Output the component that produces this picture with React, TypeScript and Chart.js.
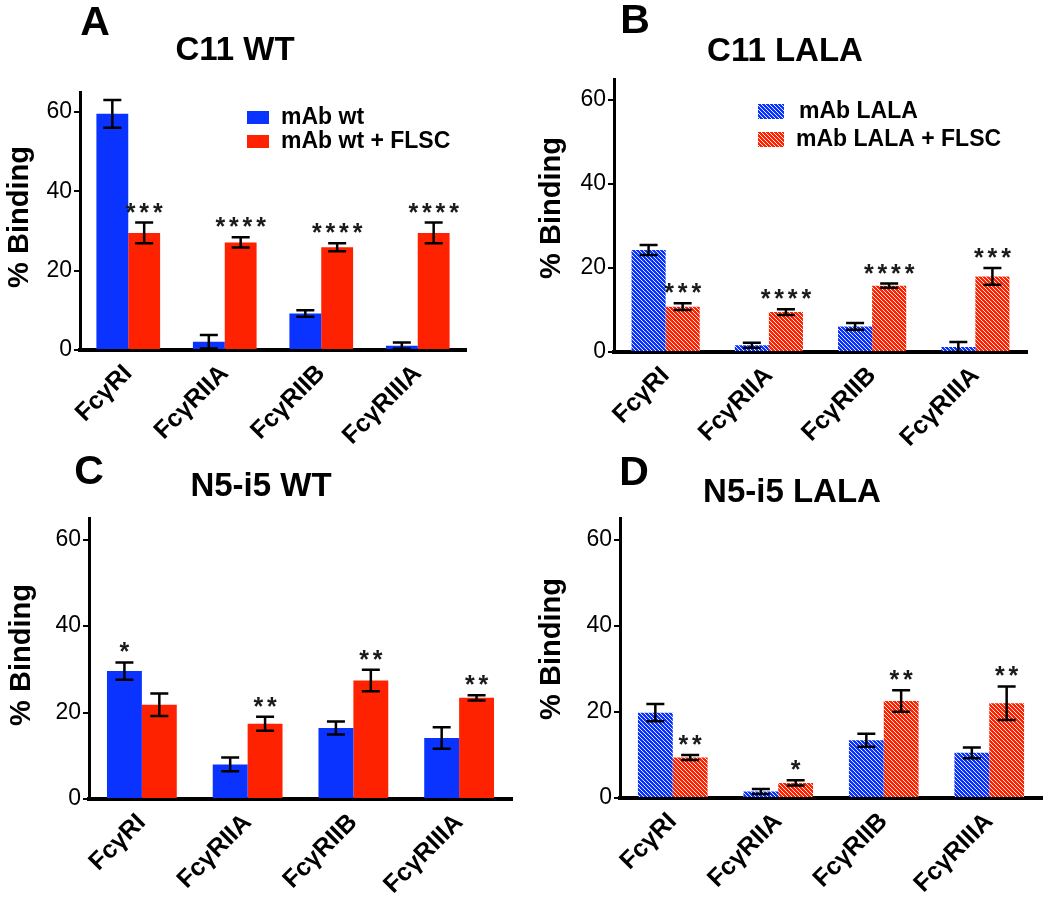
import React, { useEffect, useRef } from "react";
import { Chart, registerables } from "chart.js";
Chart.register(...registerables);

const FONT = "'Liberation Sans', Arial, Helvetica, sans-serif";

// ---- shared ----
const categories = ["FcγRI", "FcγRIIA", "FcγRIIB", "FcγRIIIA"];

// ---- Panel A: C11 WT ----
const c11WtMab = [59.5, 2.1, 9.2, 1.1];
const c11WtMabErr = [3.5, 1.7, 0.8, 0.8];
const c11WtFlsc = [29.5, 27.1, 25.9, 29.5];
const c11WtFlscErr = [2.6, 1.3, 1.0, 2.6];
const c11WtStars = ["***", "****", "****", "****"];
const c11WtStarSeries = [1, 1, 1, 1];

// ---- Panel B: C11 LALA ----
const c11LalaMab = [24.3, 1.6, 6.1, 1.2];
const c11LalaMabErr = [1.2, 0.6, 0.8, 1.2];
const c11LalaFlsc = [10.8, 9.5, 15.8, 18.0];
const c11LalaFlscErr = [0.8, 0.7, 0.5, 2.0];
const c11LalaStars = ["***", "****", "****", "***"];
const c11LalaStarSeries = [1, 1, 1, 1];

// ---- Panel C: N5-i5 WT ----
const n5WtMab = [29.6, 8.0, 16.4, 14.1];
const n5WtMabErr = [2.0, 1.6, 1.5, 2.5];
const n5WtFlsc = [21.8, 17.4, 27.4, 23.4];
const n5WtFlscErr = [2.6, 1.6, 2.5, 0.6];
const n5WtStars = ["*", "**", "**", "**"];
const n5WtStarSeries = [0, 1, 1, 1];

// ---- Panel D: N5-i5 LALA ----
const n5LalaMab = [19.8, 1.5, 13.4, 10.5];
const n5LalaMabErr = [2.0, 0.6, 1.5, 1.25];
const n5LalaFlsc = [9.4, 3.5, 22.5, 22.0];
const n5LalaFlscErr = [0.6, 0.6, 2.5, 3.9];
const n5LalaStars = ["**", "*", "**", "**"];
const n5LalaStarSeries = [1, 1, 1, 1];

const wtLabels = ["mAb wt", "mAb wt + FLSC"];
const lalaLabels = ["mAb LALA", "mAb LALA + FLSC"];

const BLUE = "#0a33ff";
const RED = "#ff2200";

function hatch(color: string): CanvasPattern | string {
  const s = 4;
  const c = document.createElement("canvas");
  c.width = s;
  c.height = s;
  const g = c.getContext("2d");
  if (!g) return color;
  g.fillStyle = color;
  g.fillRect(0, 0, s, s);
  g.strokeStyle = "rgba(255,255,255,0.9)";
  g.lineWidth = 1;
  g.beginPath();
  g.moveTo(-1, -1);
  g.lineTo(s + 1, s + 1);
  g.moveTo(-1, s - 1);
  g.lineTo(1, s + 1);
  g.moveTo(s - 1, -1);
  g.lineTo(s + 1, 1);
  g.stroke();
  const p = g.createPattern(c, "repeat");
  return p || color;
}

type PanelCfg = {
  x: number; y: number; w: number; h: number;
  left: number; right: number; top: number; bottom: number;
  letter: string; letterPos: [number, number];
  title: string; titlePos: [number, number];
  yLabelPos: [number, number];
  mab: number[]; mabErr: number[]; flsc: number[]; flscErr: number[];
  stars: string[]; starSeries: number[];
  labels: string[];
  hatched: boolean;
  legend?: { sw: [number, number, number, number][]; txt: [number, number][] };
};

const panels: PanelCfg[] = [
  {
    x: 0, y: 0, w: 525, h: 450, left: 80, right: 466, top: 92, bottom: 350,
    letter: "A", letterPos: [95, 24], title: "C11 WT", titlePos: [235, 51], yLabelPos: [20, 217],
    mab: c11WtMab, mabErr: c11WtMabErr, flsc: c11WtFlsc, flscErr: c11WtFlscErr,
    stars: c11WtStars, starSeries: c11WtStarSeries, labels: wtLabels, hatched: false,
    legend: { sw: [[247, 111, 22, 13], [247, 135, 22, 13]], txt: [[281, 118], [281, 142]] },
  },
  {
    x: 525, y: 0, w: 525, h: 450, left: 89, right: 502, top: 79, bottom: 352,
    letter: "B", letterPos: [110, 22], title: "C11 LALA", titlePos: [260, 52], yLabelPos: [27, 208],
    mab: c11LalaMab, mabErr: c11LalaMabErr, flsc: c11LalaFlsc, flscErr: c11LalaFlscErr,
    stars: c11LalaStars, starSeries: c11LalaStarSeries, labels: lalaLabels, hatched: true,
    legend: { sw: [[233, 104, 26, 15], [233, 132, 26, 15]], txt: [[274, 112], [271, 140]] },
  },
  {
    x: 0, y: 450, w: 525, h: 447, left: 89, right: 512, top: 68, bottom: 349,
    letter: "C", letterPos: [89, 23], title: "N5-i5 WT", titlePos: [261, 37], yLabelPos: [22, 205],
    mab: n5WtMab, mabErr: n5WtMabErr, flsc: n5WtFlsc, flscErr: n5WtFlscErr,
    stars: n5WtStars, starSeries: n5WtStarSeries, labels: wtLabels, hatched: false,
  },
  {
    x: 525, y: 450, w: 525, h: 447, left: 95, right: 517, top: 68, bottom: 348,
    letter: "D", letterPos: [109, 24], title: "N5-i5 LALA", titlePos: [267, 43], yLabelPos: [27, 199],
    mab: n5LalaMab, mabErr: n5LalaMabErr, flsc: n5LalaFlsc, flscErr: n5LalaFlscErr,
    stars: n5LalaStars, starSeries: n5LalaStarSeries, labels: lalaLabels, hatched: true,
  },
];

function Panel({ cfg }: { cfg: PanelCfg }) {
  const ref = useRef<HTMLCanvasElement>(null);
  useEffect(() => {
    const canvas = ref.current;
    if (!canvas) return;
    const c0 = cfg.hatched ? hatch(BLUE) : BLUE;
    const c1 = cfg.hatched ? hatch(RED) : RED;
    const errs = [cfg.mabErr, cfg.flscErr];
    const vals = [cfg.mab, cfg.flsc];

    const overlay = {
      id: "overlay",
      afterDatasetsDraw(chart: any) {
        const ctx = chart.ctx as CanvasRenderingContext2D;
        const ys = chart.scales.y;
        ctx.save();
        ctx.strokeStyle = "#000";
        ctx.lineWidth = 2.5;
        for (let d = 0; d < 2; d++) {
          const meta = chart.getDatasetMeta(d);
          meta.data.forEach((el: any, i: number) => {
            const v = vals[d][i];
            const e = errs[d][i];
            const xT = el.x;
            const yT = ys.getPixelForValue(v + e);
            const yB = ys.getPixelForValue(Math.max(0, v - e));
            ctx.beginPath();
            ctx.moveTo(xT, yT);
            ctx.lineTo(xT, yB);
            ctx.moveTo(xT - 9, yT);
            ctx.lineTo(xT + 9, yT);
            ctx.moveTo(xT - 9, yB);
            ctx.lineTo(xT + 9, yB);
            ctx.stroke();
          });
        }
        // significance stars
        ctx.fillStyle = "#1a1a1a";
        ctx.font = `bold 25px ${FONT}`;
        ctx.textAlign = "center";
        ctx.textBaseline = "alphabetic";
        cfg.stars.forEach((s, i) => {
          const d = cfg.starSeries[i];
          const el = chart.getDatasetMeta(d).data[i];
          const top = ys.getPixelForValue(vals[d][i] + errs[d][i]);
          const n = s.length;
          const pitch = 13.6;
          for (let k = 0; k < n; k++) {
            const sx = el.x + (k - (n - 1) / 2) * pitch;
            ctx.fillText("*", sx, top - 2);
          }
        });
        ctx.restore();
      },
      afterDraw(chart: any) {
        const ctx = chart.ctx as CanvasRenderingContext2D;
        ctx.save();
        ctx.fillStyle = "#000";
        ctx.textAlign = "center";
        ctx.textBaseline = "middle";
        ctx.font = `bold 41px ${FONT}`;
        ctx.fillText(cfg.letter, cfg.letterPos[0], cfg.letterPos[1]);
        ctx.font = `bold 33px ${FONT}`;
        ctx.fillText(cfg.title, cfg.titlePos[0], cfg.titlePos[1]);
        ctx.save();
        ctx.translate(cfg.yLabelPos[0], cfg.yLabelPos[1]);
        ctx.rotate(-Math.PI / 2);
        ctx.font = `bold 29px ${FONT}`;
        ctx.fillText("% Binding", 0, 0);
        ctx.restore();
        if (cfg.legend) {
          const fills = [c0, c1];
          ctx.textAlign = "left";
          ctx.font = `bold 23px ${FONT}`;
          cfg.legend.sw.forEach((r, i) => {
            ctx.fillStyle = fills[i] as any;
            ctx.fillRect(r[0], r[1], r[2], r[3]);
            ctx.fillStyle = "#000";
            const t = cfg.legend!.txt[i];
            ctx.fillText(cfg.labels[i], t[0], t[1]);
          });
        }
        ctx.restore();
      },
    };

    const chart = new Chart(canvas, {
      type: "bar",
      data: {
        labels: categories,
        datasets: [
          { label: cfg.labels[0], data: cfg.mab, backgroundColor: c0 as any, borderWidth: 0, categoryPercentage: 0.66, barPercentage: 1.0 },
          { label: cfg.labels[1], data: cfg.flsc, backgroundColor: c1 as any, borderWidth: 0, categoryPercentage: 0.66, barPercentage: 1.0 },
        ],
      },
      options: {
        responsive: false,
        animation: false,
        devicePixelRatio: 1,
        layout: { padding: { left: 0, top: cfg.top, right: cfg.w - cfg.right, bottom: 0 } },
        plugins: { legend: { display: false }, title: { display: false }, tooltip: { enabled: false } },
        scales: {
          x: {
            z: 1,
            grid: { display: false, drawTicks: false },
            border: { display: true, width: 4, color: "#000" },
            ticks: {
              autoSkip: false,
              maxRotation: 45,
              minRotation: 45,
              padding: 9,
              color: "#000",
              font: { family: FONT, size: 25, weight: "bold" },
            },
            afterFit(s: any) { s.height = cfg.h - cfg.bottom; },
          },
          y: {
            z: 1,
            min: 0,
            max: 65,
            ticks: {
              stepSize: 20,
              includeBounds: false,
              padding: 2,
              color: "#000",
              font: { family: FONT, size: 23 },
            },
            grid: { drawOnChartArea: false, drawTicks: true, tickLength: 6, lineWidth: 2, color: "#000" },
            border: { display: true, width: 3, color: "#000" },
            afterFit(s: any) { s.width = cfg.left; },
          },
        },
      } as any,
      plugins: [overlay],
    });
    return () => chart.destroy();
  }, []);
  return (
    <canvas
      ref={ref}
      width={cfg.w}
      height={cfg.h}
      style={{ position: "absolute", left: cfg.x, top: cfg.y, width: cfg.w, height: cfg.h }}
    />
  );
}

export default function App() {
  return (
    <div style={{ position: "absolute", left: 0, top: 0, width: 1050, height: 897, background: "#fff" }}>
      {panels.map((p, i) => (
        <Panel key={i} cfg={p} />
      ))}
    </div>
  );
}
